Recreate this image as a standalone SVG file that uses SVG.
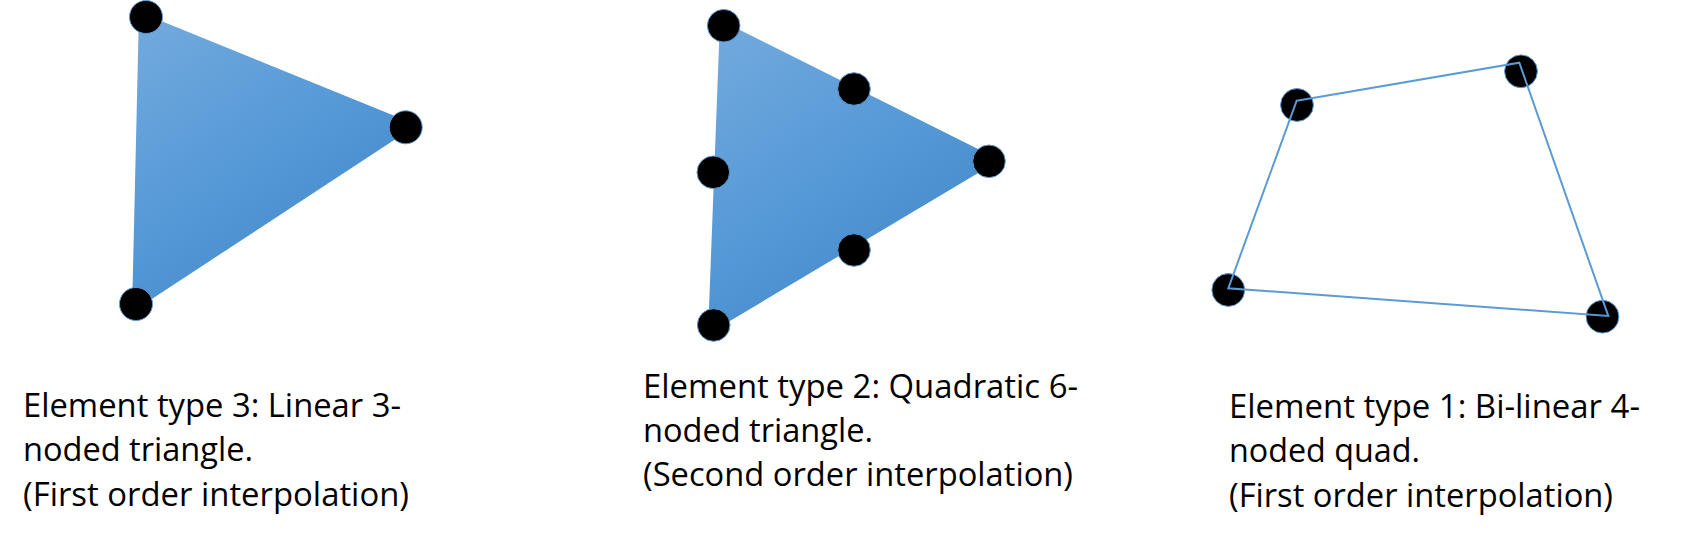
<svg xmlns="http://www.w3.org/2000/svg" width="1693" height="540" viewBox="0 0 1693 540">
  <style>
    .node { fill: #000000; stroke: #5b9bd5; stroke-width: 1; }
    .tri { stroke: none; }
    .quad { fill: none; stroke: #5b9bd5; stroke-width: 2; stroke-linejoin: miter; }
    .label { font-family: "Open Sans", "Liberation Sans", sans-serif; font-size: 32px; fill: #000000; }
  </style>
  <defs>
    <linearGradient id="triFill" x1="0.1" y1="0" x2="0.75" y2="1">
      <stop offset="0" stop-color="#72a9dd"/>
      <stop offset="0.5" stop-color="#5599d7"/>
      <stop offset="1" stop-color="#3f84c4"/>
    </linearGradient>
  </defs>

  <g id="element-type-3">
    <polygon class="tri" fill="url(#triFill)" points="139,12 417,125 132,312"/>
    <g id="t3-node-1"><circle class="node" cx="146" cy="17" r="16.5"/></g>
    <g id="t3-node-2"><circle class="node" cx="405.7" cy="127.3" r="16.5"/></g>
    <g id="t3-node-3"><circle class="node" cx="136" cy="304" r="16.5"/></g>
  </g>

  <g id="element-type-2">
    <polygon class="tri" fill="url(#triFill)" points="720,20 1000,160 708,334"/>
    <g id="t2-node-1"><circle class="node" cx="723.7" cy="25.7" r="16.3"/></g>
    <g id="t2-node-2"><circle class="node" cx="854" cy="89" r="16.3"/></g>
    <g id="t2-node-3"><circle class="node" cx="989" cy="161.3" r="16.3"/></g>
    <g id="t2-node-4"><circle class="node" cx="854" cy="250" r="16.3"/></g>
    <g id="t2-node-5"><circle class="node" cx="713.7" cy="325" r="16.3"/></g>
    <g id="t2-node-6"><circle class="node" cx="713.3" cy="172.3" r="16.3"/></g>
  </g>

  <g id="element-type-1">
    <g id="q-node-1"><circle class="node" cx="1297" cy="105" r="16.4"/></g>
    <g id="q-node-2"><circle class="node" cx="1521" cy="71.3" r="16.4"/></g>
    <g id="q-node-3"><circle class="node" cx="1602.5" cy="316.7" r="16.4"/></g>
    <g id="q-node-4"><circle class="node" cx="1228.3" cy="290" r="16.4"/></g>
  </g>

  <g id="connectors">
    <polygon class="quad" points="1296.7,100.7 1519.3,62.7 1608.3,316 1228.3,288.3"/>
  </g>

  <g id="label-type-3">
    <text class="label" x="23" y="416.5" textLength="378" lengthAdjust="spacingAndGlyphs">Element type 3: Linear 3-</text>
    <text class="label" x="23" y="461" textLength="230" lengthAdjust="spacingAndGlyphs">noded triangle.</text>
    <text class="label" x="23" y="505.5" textLength="386" lengthAdjust="spacingAndGlyphs">(First order interpolation)</text>
  </g>
  <g id="label-type-2">
    <text class="label" x="643" y="397.7" textLength="435" lengthAdjust="spacingAndGlyphs">Element type 2: Quadratic 6-</text>
    <text class="label" x="643" y="442" textLength="230" lengthAdjust="spacingAndGlyphs">noded triangle.</text>
    <text class="label" x="643" y="486.3" textLength="430" lengthAdjust="spacingAndGlyphs">(Second order interpolation)</text>
  </g>
  <g id="label-type-1">
    <text class="label" x="1229" y="418" textLength="411" lengthAdjust="spacingAndGlyphs">Element type 1: Bi-linear 4-</text>
    <text class="label" x="1229" y="462.3" textLength="191" lengthAdjust="spacingAndGlyphs">noded quad.</text>
    <text class="label" x="1229" y="506.7" textLength="384" lengthAdjust="spacingAndGlyphs">(First order interpolation)</text>
  </g>
</svg>
